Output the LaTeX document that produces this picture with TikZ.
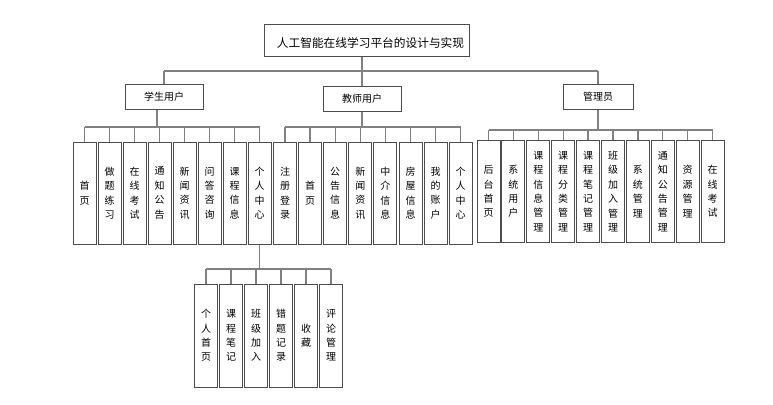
\documentclass[tikz,border=0pt]{standalone}
\usepackage{fontspec}
\setmainfont{Noto Sans CJK SC}
\begin{document}
\begin{tikzpicture}[x=1pt,y=-1pt,
  box/.style={draw=black!70,line width=1pt,inner sep=0pt,fill=white},
  leaf/.style={box,minimum width=23pt,minimum height=102pt,align=center,
    font=\fontsize{10}{14.4}\selectfont},
  mid/.style={box,minimum width=78pt,minimum height=25pt,font=\fontsize{10}{12}\selectfont},
  conn/.style={draw=black!50,line width=1.3pt}]
\useasboundingbox (0,0) rectangle (773,404);
% title
\node[box,minimum width=205pt,minimum height=32pt] (title) at (366.5,41) {};
\node[font=\fontsize{11.7}{14}\selectfont,inner sep=0pt] (titletext) at (370.5,43) {人工智能在线学习平台的设计与实现};
% level 2
\node[mid] (stu) at (164,96.5) {学生用户};
\node[mid] (tea) at (362,98.5) {教师用户};
\node[mid,minimum width=70pt] (adm) at (598,96.5) {管理员};
\coordinate (bustop) at (0,71);
\draw[conn] (tea.north |- title.south) -- (tea.north);
\draw[conn] (stu.north |- bustop) -- (adm.north |- bustop);
\draw[conn] (stu.north |- bustop) -- (stu.north);
\draw[conn] (adm.north |- bustop) -- (adm.north);
% student leaves
\foreach \t [count=\i] in {首\\页,做\\题\\练\\习,在\\线\\考\\试,通\\知\\公\\告,新\\闻\\资\\讯,问\\答\\咨\\询,课\\程\\信\\息,个\\人\\中\\心}
  \node[leaf] (s\i) at ({84.5+25*(\i-1)},193) {\t};
\coordinate (buss) at (0,127);
\draw[conn] ([xshift=-7pt]stu.south) -- ([xshift=-7pt]stu.south |- buss);
\draw[conn] (s1.north |- buss) -- (s8.north |- buss);
\foreach \i in {1,...,8} \draw[conn] (s\i.north |- buss) -- (s\i.north);
% teacher leaves
\foreach \t [count=\i] in {注\\册\\登\\录,首\\页,公\\告\\信\\息,新\\闻\\资\\讯,中\\介\\信\\息,房\\屋\\信\\息,我\\的\\账\\户,个\\人\\中\\心}
  \node[leaf] (t\i) at ({285+25.1*(\i-1)},193) {\t};
\coordinate (bust) at (0,127);
\draw[conn] (tea.south) -- (tea.south |- bust);
\draw[conn] (t1.north |- bust) -- (t8.north |- bust);
\foreach \i in {1,...,8} \draw[conn] (t\i.north |- bust) -- (t\i.north);
% admin leaves
\foreach \t [count=\i] in {后\\台\\首\\页,系\\统\\用\\户,课\\程\\信\\息\\管\\理,课\\程\\分\\类\\管\\理,课\\程\\笔\\记\\管\\理,班\\级\\加\\入\\管\\理,系\\统\\管\\理,通\\知\\公\\告\\管\\理,资\\源\\管\\理,在\\线\\考\\试}
  \node[leaf] (a\i) at ({488.5+24.9*(\i-1)},191.5) {\t};
\coordinate (busa) at (0,130);
\draw[conn] (adm.south) -- (adm.south |- busa);
\draw[conn] (a1.north |- busa) -- (a10.north |- busa);
\foreach \i in {1,...,10} \draw[conn] (a\i.north |- busa) -- (a\i.north);
% personal centre sub-leaves
\foreach \t [count=\i] in {个\\人\\首\\页,课\\程\\笔\\记,班\\级\\加\\入,错\\题\\记\\录,收\\藏,评\\论\\管\\理}
  \node[leaf,minimum height=103pt] (p\i) at ({206+25*(\i-1)},335.5) {\t};
\coordinate (busp) at (0,269);
\draw[conn] (s8.south) -- (s8.south |- busp);
\draw[conn] (p1.north |- busp) -- (p6.north |- busp);
\foreach \i in {1,...,6} \draw[conn] (p\i.north |- busp) -- (p\i.north);
\end{tikzpicture}
\end{document}
